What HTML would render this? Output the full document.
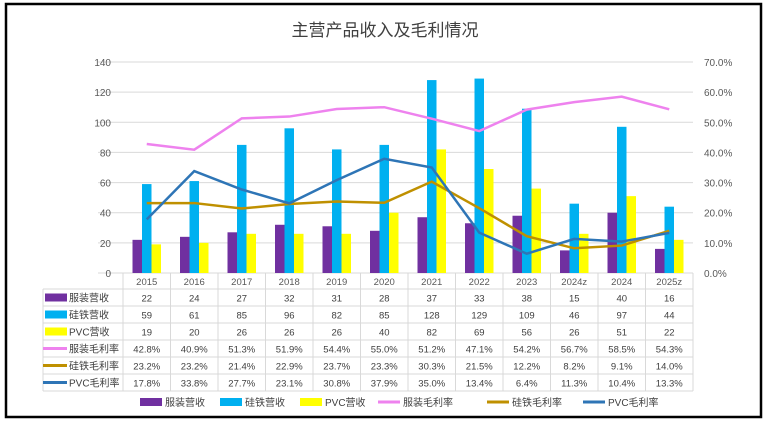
<!DOCTYPE html>
<html><head><meta charset="utf-8">
<style>
body{margin:0;width:766px;height:422px;background:#fff;overflow:hidden;font-family:"Liberation Sans","Noto Sans CJK SC",sans-serif;}
svg text{font-family:"Liberation Sans","Noto Sans CJK SC",sans-serif;}
</style></head><body>
<svg id="c" width="766" height="422"></svg>
<script>
const categories=["2015","2016","2017","2018","2019","2020","2021","2022","2023","2024z","2024","2025z"];
const apparelRev=[22,24,27,32,31,28,37,33,38,15,40,16];
const siliconRev=[59,61,85,96,82,85,128,129,109,46,97,44];
const pvcRev=[19,20,26,26,26,40,82,69,56,26,51,22];
const apparelMargin=[42.8,40.9,51.3,51.9,54.4,55.0,51.2,47.1,54.2,56.7,58.5,54.3];
const siliconMargin=[23.2,23.2,21.4,22.9,23.7,23.3,30.3,21.5,12.2,8.2,9.1,14.0];
const pvcMargin=[17.8,33.8,27.7,23.1,30.8,37.9,35.0,13.4,6.4,11.3,10.4,13.3];
const leftTicks=[0,20,40,60,80,100,120,140];
const rightTicks=[0,10,20,30,40,50,60,70];

const NS="http://www.w3.org/2000/svg";
const svg=document.getElementById('c');
function el(t,a,p){const e=document.createElementNS(NS,t);for(const k in a)e.setAttribute(k,a[k]);(p||svg).appendChild(e);return e;}
const X0=123,CW=47.5,Y0=273,YT=62;
const yL=v=>Y0-(v/140)*(Y0-YT);
const yR=v=>Y0-(v/70)*(Y0-YT);
const xc=i=>X0+CW*(i+0.5);

// frame
let f=el('rect',{x:6,y:4,width:755,height:413,fill:'#fff',stroke:'#000','stroke-width':2.5});

let t=el('text',{x:385,y:36,'text-anchor':'middle','font-size':17,fill:'#404040'});t.textContent='主营产品收入及毛利情况';


leftTicks.forEach(v=>{
  let g=el('line',{x1:X0-25,x2:X0+CW*12,y1:yL(v),y2:yL(v),stroke:'#d9d9d9','stroke-width':1});
  
  let tx=el('text',{x:X0-12,y:yL(v)+4,'text-anchor':'end','font-size':10,fill:'#595959'});tx.textContent=v;
  
});
rightTicks.forEach(v=>{
  let tx=el('text',{x:704,y:yR(v)+4,'font-size':10,fill:'#595959'});tx.textContent=v.toFixed(1)+'%';
  
});

const bw=9.5;
const series=[[apparelRev,'#7030a0','apparel'],[siliconRev,'#00b0f0','silicon'],[pvcRev,'#ffff00','pvc']];
series.forEach((s,si)=>{
  s[0].forEach((v,i)=>{
    let r=el('rect',{x:xc(i)-bw*1.5+si*bw,y:yL(v),width:bw,height:Y0-yL(v),fill:s[1]});
    
  });
});
const lines=[[apparelMargin,'#ee82ee','apparel-margin'],[siliconMargin,'#bf9000','silicon-margin'],[pvcMargin,'#2e75b6','pvc-margin']];
lines.forEach(s=>{
  let p=el('polyline',{points:s[0].map((v,i)=>xc(i)+','+yR(v)).join(' '),fill:'none',stroke:s[1],'stroke-width':2.5});
  
});

// table
const TY=289,RH=17,TX=43;
const rows=[['服装营收',apparelRev,'#7030a0','bar',v=>v],['硅铁营收',siliconRev,'#00b0f0','bar',v=>v],['PVC营收',pvcRev,'#ffff00','bar',v=>v],
['服装毛利率',apparelMargin,'#ee82ee','line',v=>v.toFixed(1)+'%'],['硅铁毛利率',siliconMargin,'#bf9000','line',v=>v.toFixed(1)+'%'],['PVC毛利率',pvcMargin,'#2e75b6','line',v=>v.toFixed(1)+'%']];
for(let i=0;i<=12;i++){let l=el('line',{x1:X0+CW*i,x2:X0+CW*i,y1:273,y2:TY+RH*6,stroke:'#d9d9d9'});}
let l0=el('line',{x1:TX,x2:TX,y1:TY,y2:TY+RH*6,stroke:'#d9d9d9'});
for(let r=0;r<=6;r++){let l=el('line',{x1:TX,x2:X0+CW*12,y1:TY+RH*r,y2:TY+RH*r,stroke:'#d9d9d9'});}
categories.forEach((c,i)=>{let tx=el('text',{x:xc(i),y:285,'text-anchor':'middle','font-size':9.5,fill:'#595959'});tx.textContent=c;
  });
rows.forEach((r,ri)=>{
  const cy=TY+RH*ri+RH/2;
  let k=r[3]==='bar'?el('rect',{x:TX+2,y:cy-4,width:22,height:8,fill:r[2]}):el('rect',{x:TX,y:cy-1.5,width:24,height:3,fill:r[2]});
  
  let lb=el('text',{x:TX+26,y:cy+4,'font-size':10,fill:'#404040'});lb.textContent=r[0];
  
  r[1].forEach((v,i)=>{let tx=el('text',{x:xc(i),y:cy+4,'text-anchor':'middle','font-size':9.5,fill:'#404040'});tx.textContent=r[4](v);
    });
});
// legend
const lx=[140,220,300,378,487,583];
rows.forEach((r,i)=>{
  const y=402;
  let k=r[3]==='bar'?el('rect',{x:lx[i],y:y-4,width:22,height:8,fill:r[2]}):el('rect',{x:lx[i],y:y-1.5,width:22,height:3,fill:r[2]});
  
  let tx=el('text',{x:lx[i]+25,y:y+4,'font-size':10,fill:'#404040'});tx.textContent=r[0];
  
});
</script>
</body></html>
